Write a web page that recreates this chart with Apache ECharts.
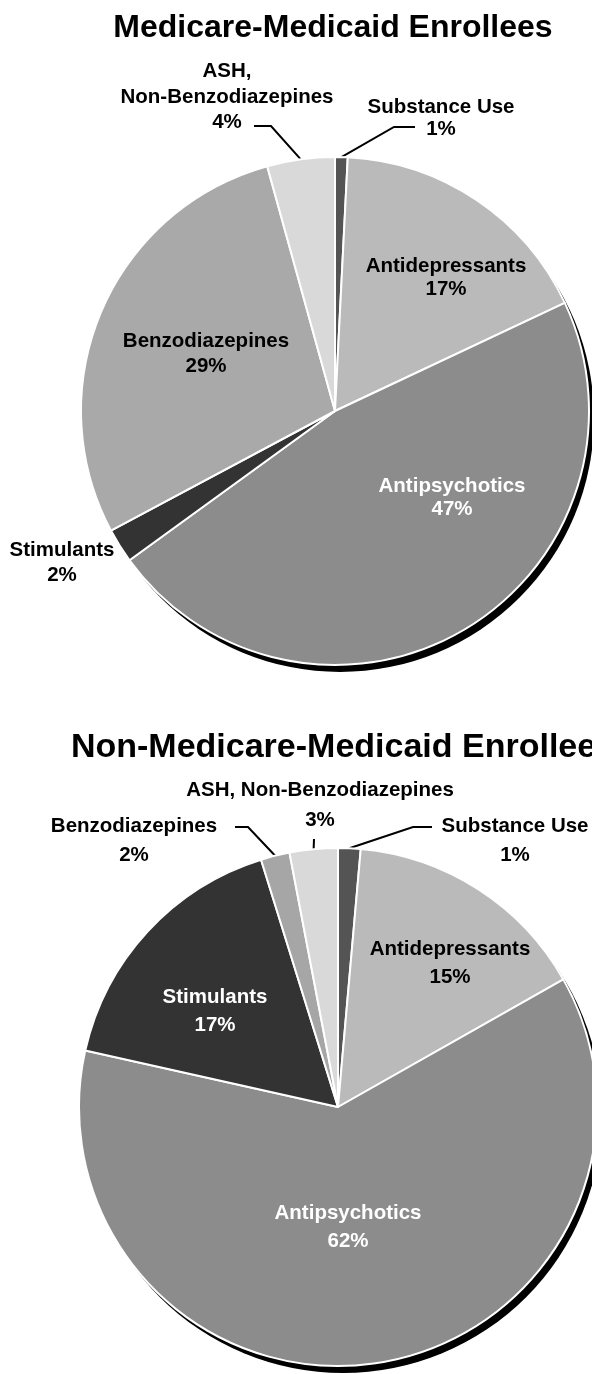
<!DOCTYPE html>
<html>
<head>
<meta charset="utf-8">
<script src="https://cdn.jsdelivr.net/npm/echarts@6/dist/echarts.min.js"></script>
<style>
html,body{margin:0;padding:0;background:#fff;}
#chart{width:592px;height:1374px;}
</style>
</head>
<body>
<div id="chart"></div>
<script>
// ---- data ----
const categories = ['Substance Use', 'Antidepressants', 'Antipsychotics', 'Stimulants', 'Benzodiazepines', 'ASH, Non-Benzodiazepines'];
const topTitle = 'Medicare-Medicaid Enrollees';
const bottomTitle = 'Non-Medicare-Medicaid Enrollees';
const topValues = [0.8, 17.2, 47.0, 2.2, 28.5, 4.3];
const bottomValues = [1.4, 15.4, 61.7, 16.7, 1.8, 3.0];

// ---- styles / layout ----
const topColors = ['#545454', '#bababa', '#8c8c8c', '#333333', '#a9a9a9', '#d9d9d9'];
const bottomColors = ['#545454', '#bababa', '#8c8c8c', '#333333', '#a6a6a6', '#d9d9d9'];
const FONT = '"Liberation Sans", Arial, sans-serif';

const topLayout = {
  center: [335, 411], radius: 254,
  labels: [
    {x: 441, y: 118.5, lh: 22, line: [[394, 127], [415, 127]]},
    {x: 446, y: 277.5, lh: 23},
    {x: 452, y: 498, lh: 23, color: '#fff'},
    {x: 62, y: 562.5, lh: 25},
    {x: 206, y: 353.5, lh: 25},
    {x: 227, y: 97, lh: 25.5, line: [[271, 126], [254, 126]], wrap: true}
  ]
};
const bottomLayout = {
  center: [338, 1107], radius: 259,
  labels: [
    {x: 515, y: 840.5, lh: 29, line: [[413, 827], [432, 827]]},
    {x: 450, y: 963, lh: 28},
    {x: 348, y: 1227, lh: 28, color: '#fff'},
    {x: 215, y: 1011, lh: 28, color: '#fff'},
    {x: 134, y: 840.5, lh: 29, line: [[248, 827], [235, 827]]},
    {x: 320, y: 805, lh: 30, line: [[314, 839]]}
  ]
};

function buildData(values, colors, layout) {
  return categories.map((name, i) => {
    const L = layout.labels[i];
    return {
      name: name,
      value: values[i],
      itemStyle: {color: colors[i]},
      label: {color: L.color || '#000', lineHeight: L.lh},
      labelLine: {show: !!L.line}
    };
  });
}

function makeSeries(values, colors, layout) {
  const total = values.reduce((a, b) => a + b, 0);
  const shadow = {
    type: 'pie', silent: true, z: 1,
    center: [layout.center[0] + 5, layout.center[1] + 7],
    radius: layout.radius,
    label: {show: false}, labelLine: {show: false},
    itemStyle: {color: '#000', borderWidth: 0},
    emphasis: {disabled: true},
    data: [{name: 'shadow', value: total}]
  };
  const main = {
    type: 'pie', z: 2,
    center: layout.center,
    radius: layout.radius,
    startAngle: 90,
    clockwise: true,
    avoidLabelOverlap: false,
    emphasis: {disabled: true},
    itemStyle: {borderColor: '#fff', borderWidth: 2},
    label: {
      show: true,
      position: 'outside',
      alignTo: 'none',
      overflow: 'none',
      width: 400,
      fontFamily: FONT,
      fontWeight: 'bold',
      fontSize: 20.5,
      formatter: function (p) {
        const L = layout.labels[p.dataIndex];
        const n = L.wrap ? p.name.replace(', ', ',\n') : p.name;
        return n + '\n' + Math.round(p.value) + '%';
      }
    },
    labelLine: {show: true, lineStyle: {color: '#000', width: 2}},
    labelLayout: function (params) {
      const L = layout.labels[params.dataIndex];
      const res = {x: L.x, y: L.y, align: 'center', verticalAlign: 'middle'};
      if (L.line && params.labelLinePoints && params.labelLinePoints.length) {
        res.labelLinePoints = [params.labelLinePoints[0]].concat(L.line);
      }
      return res;
    },
    data: buildData(values, colors, layout)
  };
  return [shadow, main];
}

const chart = echarts.init(document.getElementById('chart'), null, {renderer: 'canvas'});
chart.setOption({
  animation: false,
  backgroundColor: '#fff',
  title: [
    {text: topTitle, left: 328, top: 7, textAlign: 'center',
     textStyle: {fontFamily: FONT, fontWeight: 'bold', fontSize: 32, color: '#000', lineHeight: 32}},
    {text: bottomTitle, left: 338, top: 726, textAlign: 'center',
     textStyle: {fontFamily: FONT, fontWeight: 'bold', fontSize: 34, color: '#000', lineHeight: 34}}
  ],
  series: makeSeries(topValues, topColors, topLayout)
    .concat(makeSeries(bottomValues, bottomColors, bottomLayout))
});
</script>
</body>
</html>
